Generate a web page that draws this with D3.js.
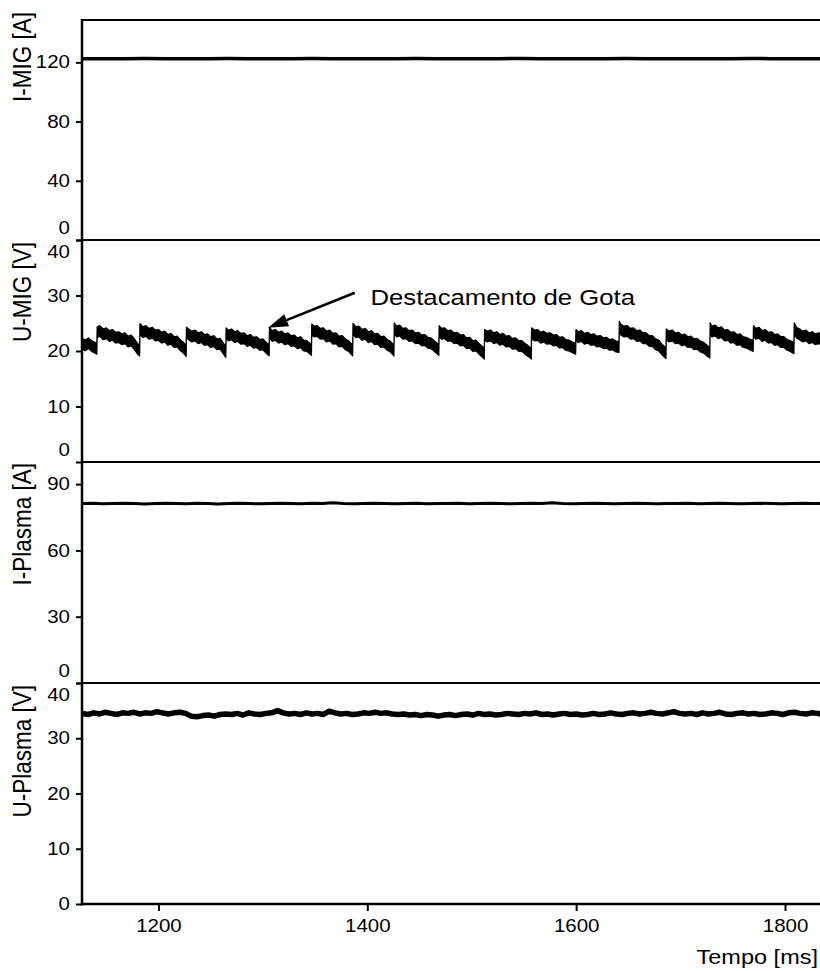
<!DOCTYPE html>
<html><head><meta charset="utf-8">
<script src="https://cdn.jsdelivr.net/npm/d3@7"></script>
<style>
body{margin:0;background:#fff}
svg{display:block}
text{font-family:"Liberation Sans",Arial,Helvetica,sans-serif;fill:#000}
</style>
</head><body>
<svg id="c" width="820" height="971"></svg>
<script>
// ---------------- DATA ----------------
const timeDomain = [1126.8, 1833.5];          // ms
const xTicks = [1200, 1400, 1600, 1800];
const xTitle = "Tempo [ms]";

const panelTitles = ["I-MIG [A]", "U-MIG [V]", "I-Plasma [A]", "U-Plasma [V]"];
const panelMax    = [148.6, 40, 100, 40];
const panelTicks  = [[0, 40, 80, 120], [0, 10, 20, 30, 40], [0, 30, 60, 90], [0, 10, 20, 30, 40]];

// I-MIG [A], sampled every 20 ms from 1127 ms
const iMigStart = 1127, iMigStep = 20;
const iMigValues = [122.4,122.5,122.4,122.6,122.5,122.4,122.5,122.6,122.5,122.4,122.5,122.6,122.5,122.5,122.4,122.5,122.6,122.5,122.4,122.5,122.5,122.6,122.4,122.5,122.5,122.4,122.6,122.5,122.4,122.5,122.5,122.4,122.6,122.5,122.4,122.5,122.5];

// U-MIG [V] : [time ms, voltage V] (sawtooth with droplet detachment jumps)
const uMigPoints = [
 [1127,21.3],[1130,21.0],[1133,21.4],[1136,20.9],[1139,20.6],[1141,20.4],
 [1141.3,23.4],[1144,23.6],[1147,23.0],[1150,23.2],[1153,22.7],[1156,22.9],[1159,22.4],[1162,22.5],[1165,22.1],[1168,22.3],[1171,21.7],[1174,21.9],[1177,21.2],[1180,20.4],[1182,20.1],
 [1182.3,24.0],[1185,23.4],[1188,23.6],[1191,23.1],[1194,23.3],[1197,22.8],[1200,22.9],[1203,22.4],[1206,22.6],[1209,22.0],[1212,22.2],[1215,21.6],[1218,21.7],[1221,21.0],[1224,20.6],[1226.5,20.0],
 [1226.8,23.3],[1229,23.0],[1232,22.6],[1235,22.8],[1238,22.3],[1241,22.5],[1244,22.0],[1247,22.1],[1250,21.6],[1253,21.8],[1256,21.2],[1259,21.3],[1262,20.5],[1264.5,19.8],
 [1264.8,23.2],[1267,22.8],[1270,23.0],[1273,22.5],[1276,22.7],[1279,22.2],[1282,22.3],[1285,21.8],[1288,22.0],[1291,21.5],[1294,21.6],[1297,21.1],[1300,21.2],[1303,20.6],[1306,20.1],
 [1306.3,23.3],[1309,22.7],[1312,22.9],[1315,22.4],[1318,22.6],[1321,22.1],[1324,22.3],[1327,21.8],[1330,21.9],[1333,21.4],[1336,21.6],[1339,21.0],[1342,20.9],[1346.5,20.2],
 [1346.8,23.9],[1349,23.5],[1352,23.6],[1355,23.1],[1358,23.2],[1361,22.6],[1364,22.8],[1367,22.2],[1370,22.3],[1373,21.7],[1376,21.8],[1379,21.2],[1382,20.9],[1386,20.1],
 [1386.3,24.0],[1389,23.4],[1392,23.5],[1395,22.9],[1398,23.1],[1401,22.5],[1404,22.7],[1407,22.1],[1410,22.2],[1413,21.6],[1416,21.7],[1419,21.1],[1422,20.8],[1425.5,20.1],
 [1425.8,24.1],[1428,23.5],[1431,23.7],[1434,23.1],[1437,23.2],[1440,22.7],[1443,22.8],[1446,22.3],[1449,22.4],[1452,21.9],[1455,22.0],[1458,21.5],[1461,21.4],[1464,20.9],[1468.5,20.2],
 [1468.8,23.6],[1471,23.1],[1474,23.2],[1477,22.7],[1480,22.8],[1483,22.3],[1486,22.4],[1489,21.9],[1492,22.0],[1495,21.4],[1498,21.5],[1501,20.9],[1504,21.0],[1507,20.4],[1510,19.9],[1512,19.5],
 [1512.3,22.9],[1515,22.6],[1518,22.8],[1521,22.3],[1524,22.5],[1527,22.0],[1530,22.2],[1533,21.7],[1536,21.8],[1539,21.3],[1542,21.4],[1545,20.9],[1548,20.9],[1551,20.4],[1554,20.0],[1557,19.5],
 [1557.3,23.2],[1560,22.8],[1563,22.9],[1566,22.4],[1569,22.6],[1572,22.2],[1575,22.3],[1578,21.9],[1581,22.0],[1584,21.5],[1587,21.6],[1590,21.1],[1593,21.0],[1596,20.7],[1599.5,20.4],
 [1599.8,22.9],[1602,22.5],[1605,22.7],[1608,22.2],[1611,22.4],[1614,22.0],[1617,22.1],[1620,21.7],[1623,21.8],[1626,21.4],[1629,21.5],[1632,21.1],[1635,21.2],[1638,20.8],[1641,20.7],
 [1641.3,24.4],[1643,23.8],[1646,23.5],[1649,23.6],[1652,23.1],[1655,23.2],[1658,22.7],[1661,22.8],[1664,22.3],[1667,22.3],[1670,21.8],[1673,21.8],[1676,21.2],[1679,21.0],[1682,20.3],[1686,19.6],
 [1686.3,23.0],[1689,22.6],[1692,22.8],[1695,22.3],[1698,22.4],[1701,21.9],[1704,22.1],[1707,21.6],[1710,21.7],[1713,21.2],[1716,21.3],[1719,20.8],[1722,20.6],[1725,20.1],[1728,19.7],
 [1728.3,24.1],[1730,23.5],[1733,23.7],[1736,23.2],[1739,23.4],[1742,22.8],[1745,22.9],[1748,22.4],[1751,22.5],[1754,22.0],[1757,22.1],[1760,21.6],[1763,21.5],[1766,21.2],[1769.5,20.9],
 [1769.8,23.6],[1772,23.1],[1775,23.3],[1778,22.7],[1781,22.9],[1784,22.4],[1787,22.5],[1790,22.0],[1793,22.1],[1796,21.6],[1799,21.6],[1802,21.1],[1805,20.9],[1808.5,20.5],
 [1808.8,24.1],[1811,23.3],[1814,23.0],[1817,22.6],[1820,22.8],[1823,22.3],[1826,22.5],[1829,22.1],[1832,22.3],[1835,22.1]
];

// I-Plasma [A], sampled every 10 ms from 1127 ms
const iPlasmaStart = 1127, iPlasmaStep = 10;
const iPlasmaValues = [81.2,81.3,81.1,81.2,81.3,81.2,81.0,81.2,81.3,81.2,81.1,81.3,81.2,81.0,81.2,81.3,81.2,81.1,81.2,81.3,81.2,81.1,81.3,81.2,81.6,81.2,81.1,81.2,81.3,81.2,81.1,81.2,81.3,81.1,81.2,81.2,81.3,81.1,81.2,81.3,81.2,81.1,81.2,81.3,81.2,81.6,81.2,81.1,81.2,81.3,81.2,81.1,81.2,81.3,81.2,81.1,81.2,81.2,81.3,81.1,81.2,81.3,81.2,81.1,81.2,81.3,81.2,81.1,81.2,81.3,81.2,81.2,81.3];

// U-Plasma [V], sampled every 5.5 ms from 1127 ms
const uPlasmaStart = 1127, uPlasmaStep = 5.5;
const uPlasmaValues = [34.5,34.3,34.6,34.4,34.7,34.5,34.3,34.6,34.5,34.7,34.4,34.6,34.5,34.8,34.6,34.4,34.6,34.7,34.5,
 34.0,33.9,34.1,34.2,34.0,34.3,34.4,
 34.3,34.5,34.2,34.6,34.4,34.3,34.5,34.6,35.0,34.6,
 34.4,34.5,34.3,34.6,34.4,34.5,34.3,34.9,34.6,34.4,
 34.5,34.3,34.4,34.6,34.5,34.7,34.5,34.6,34.4,34.3,
 34.4,34.2,34.3,34.1,34.3,34.2,34.0,34.2,34.3,34.1,
 34.3,34.4,34.2,34.5,34.3,34.4,34.2,34.3,34.5,34.4,
 34.3,34.5,34.4,34.6,34.3,34.4,34.2,34.4,34.5,34.3,
 34.4,34.2,34.3,34.5,34.3,34.4,34.6,34.4,34.3,34.5,
 34.6,34.4,34.5,34.7,34.5,34.4,34.6,34.8,34.5,34.4,
 34.5,34.3,34.6,34.4,34.5,34.7,34.4,34.3,34.5,34.6,34.4,34.5,34.3,
 34.4,34.6,34.5,34.3,34.6,34.7,34.5,34.4,34.6,34.5,34.3,34.5,34.6,34.4];

const annotationText = "Destacamento de Gota";
const annotationTip = [1305, 24.2];     // data coords (U-MIG panel)
const annotationTail = [1388, 30.5];
const annotationPos = [1403, 28.2];

// ---------------- LAYOUT ----------------
const svg = d3.select("#c");
const left = 82, right = 820;
const panelTop = [20, 240, 462, 683];
const panelBot = [240, 462, 683, 904];
const TX = 1.17; // horizontal text stretch of the original

const x = d3.scaleLinear().domain(timeDomain).range([left, right]);
const ys = panelMax.map((m, i) => d3.scaleLinear().domain([0, m]).range([panelBot[i], panelTop[i]]));

svg.append("defs").append("clipPath").attr("id", "plotclip")
  .append("rect").attr("x", left).attr("y", panelTop[0]).attr("width", right - left + 5).attr("height", panelBot[3] - panelTop[0]);

const series = [
  iMigValues.map((v, i) => [iMigStart + i * iMigStep, v]),
  uMigPoints,
  iPlasmaValues.map((v, i) => [iPlasmaStart + i * iPlasmaStep, v]),
  uPlasmaValues.map((v, i) => [uPlasmaStart + i * uPlasmaStep, v])
];
const strokeW = [3.5, 0, 3, 5.5];

series.forEach((data, i) => {
  if (i === 1) {
    // thick noisy trace drawn as a band around the signal (half thickness in px)
    const half = 5.4;
    const area = d3.area().x(d => x(d[0]))
      .y0(d => ys[i](d[1]) + half).y1(d => ys[i](d[1]) - half);
    svg.append("path").datum(data)
      .attr("clip-path", "url(#plotclip)")
      .attr("d", area).attr("fill", "#000")
      .attr("stroke", "#000").attr("stroke-width", 1.2).attr("stroke-linejoin", "round");
    return;
  }
  const line = d3.line().x(d => x(d[0])).y(d => ys[i](d[1]));
  svg.append("path").datum(data)
    .attr("clip-path", "url(#plotclip)")
    .attr("d", line)
    .attr("fill", "none").attr("stroke", "#000")
    .attr("stroke-width", strokeW[i])
    .attr("stroke-linejoin", "round").attr("stroke-linecap", "butt");
});

// y axes (ticks + labels)
ys.forEach((y, i) => {
  const g = svg.append("g").attr("transform", `translate(${left},0)`)
    .call(d3.axisLeft(y).tickValues(panelTicks[i]).tickSize(6).tickPadding(0).tickFormat(d3.format("d")));
  g.select(".domain").remove();
  g.selectAll(".tick line").attr("stroke", "#000").attr("stroke-width", 2);
  g.selectAll(".tick text")
    .attr("font-size", 17.5)
    .attr("font-family", '"Liberation Sans",Arial,sans-serif')
    .attr("text-anchor", "end")
    .attr("x", -12 / TX)
    .attr("transform", `scale(${TX},1)`)
    .attr("y", d => {
      if (d === 0 && i < 3) return -12.5;
      if (Math.abs(y(d) - panelTop[i]) < 1) return 12;
      return 0;
    });
  // panel title
  svg.append("text")
    .attr("transform", `translate(31,${[12, 242, 463, 685][i]}) rotate(-90) scale(1,${TX})`)
    .attr("text-anchor", "end")
    .attr("font-size", 22.5)
    .text(panelTitles[i]);
});

// x axis
const gx = svg.append("g").attr("transform", `translate(0,${panelBot[3]})`)
  .call(d3.axisBottom(x).tickValues(xTicks).tickSize(7).tickFormat(d3.format("d")));
gx.select(".domain").remove();
gx.selectAll(".tick line").attr("stroke", "#000").attr("stroke-width", 2);
gx.selectAll(".tick text")
  .attr("font-size", 17.5)
  .attr("font-family", '"Liberation Sans",Arial,sans-serif')
  .attr("y", 16)
  .attr("x", 0)
  .attr("transform", `scale(${TX},1)`);

svg.append("text")
  .attr("transform", `translate(818,964) scale(1.12,1)`)
  .attr("text-anchor", "end")
  .attr("font-size", 21)
  .text(xTitle);

// frame lines: top line, panel separators, left axis
const hLines = [panelTop[0], panelBot[0], panelBot[1], panelBot[2], panelBot[3]];
svg.selectAll("line.hsep").data(hLines).enter().append("line")
  .attr("class", "hsep")
  .attr("x1", left - 1).attr("x2", 822)
  .attr("y1", d => d).attr("y2", d => d)
  .attr("stroke", "#000").attr("stroke-width", (d, i) => i === 4 ? 2.5 : 2);
svg.append("line")
  .attr("x1", left).attr("x2", left)
  .attr("y1", panelTop[0] - 1).attr("y2", panelBot[3] + 1.2)
  .attr("stroke", "#000").attr("stroke-width", 2.5);

// annotation
const ya = ys[1];
const tip = [x(annotationTip[0]), ya(annotationTip[1])];
const tail = [x(annotationTail[0]), ya(annotationTail[1])];
const ang = Math.atan2(tip[1] - tail[1], tip[0] - tail[0]);
const headLen = 20, headW = 6.5;
const base = [tip[0] - headLen * Math.cos(ang), tip[1] - headLen * Math.sin(ang)];
svg.append("line")
  .attr("x1", tail[0]).attr("y1", tail[1]).attr("x2", base[0]).attr("y2", base[1])
  .attr("stroke", "#000").attr("stroke-width", 2.5);
svg.append("path")
  .attr("d", d3.line()([
    tip,
    [base[0] + headW * Math.sin(ang), base[1] - headW * Math.cos(ang)],
    [base[0] - headW * Math.sin(ang), base[1] + headW * Math.cos(ang)]
  ]) + "Z")
  .attr("fill", "#000");
svg.append("text")
  .attr("transform", `translate(${x(annotationPos[0])},${ya(annotationPos[1])}) scale(${TX},1)`)
  .attr("font-size", 22)
  .text(annotationText);
</script>
</body></html>
